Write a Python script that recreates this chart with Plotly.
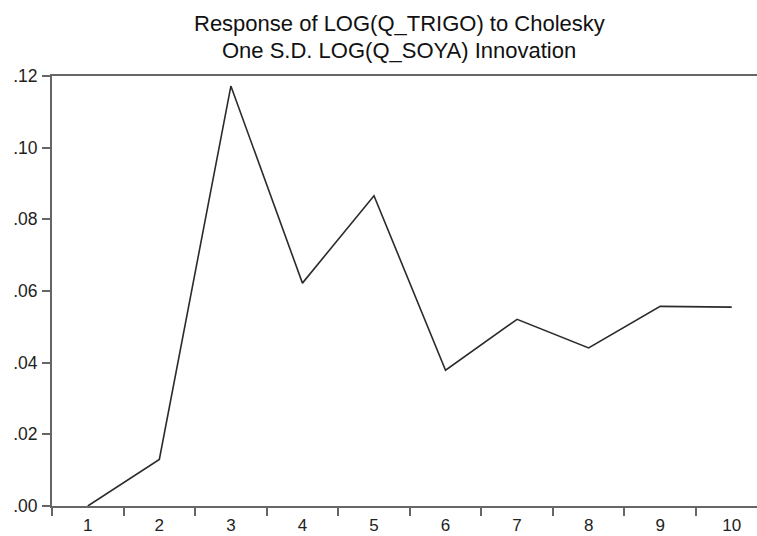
import plotly.graph_objects as go

periods = ["1", "2", "3", "4", "5", "6", "7", "8", "9", "10"]
response = [0.0, 0.0130, 0.1172, 0.0622, 0.0866, 0.0379, 0.0521, 0.0441, 0.0557, 0.0555]
ytick_vals = [0.0, 0.02, 0.04, 0.06, 0.08, 0.10, 0.12]
ytick_text = [".00", ".02", ".04", ".06", ".08", ".10", ".12"]
title_lines = ["Response of LOG(Q_TRIGO) to Cholesky", "One S.D. LOG(Q_SOYA) Innovation"]

PLOT_H = 430.0

fig = go.Figure()
fig.add_trace(go.Scatter(x=periods, y=response, mode="lines",
                         line=dict(color="#2b2b2b", width=1.6), showlegend=False))

for line, ypx in zip(title_lines, [23, 51]):
    fig.add_annotation(text=line, xref="paper", yref="paper",
                       x=(399 - 52) / 705, y=(506 - ypx) / PLOT_H,
                       xanchor="center", yanchor="middle", showarrow=False,
                       font=dict(size=22, color="#111111",
                                 family="Liberation Sans, Arial, sans-serif"))

fig.update_layout(
    width=757, height=536,
    margin=dict(l=52, r=0, t=76, b=30),
    paper_bgcolor="white", plot_bgcolor="white",
    font=dict(family="Liberation Sans, Arial, sans-serif", size=17, color="#222222"),
)
fig.update_xaxes(type="category", range=[-0.5, 9.353], tickson="boundaries",
                 ticks="outside", ticklen=8, tickwidth=1.5, tickcolor="#666666",
                 tickfont=dict(size=17, color="#222222"),
                 showline=True, linecolor="#666666", linewidth=2, mirror=True,
                 showgrid=False, zeroline=False, fixedrange=True,
                 ticklabelstandoff=3)
fig.update_yaxes(range=[0, 0.12], tickvals=ytick_vals, ticktext=ytick_text,
                 ticks="outside", ticklen=8, tickwidth=1.5, tickcolor="#666666",
                 tickfont=dict(size=17.5, color="#222222"),
                 showline=True, linecolor="#666666", linewidth=2,
                 showgrid=False, zeroline=False, ticklabelstandoff=1)

fig.write_html("out.html")
